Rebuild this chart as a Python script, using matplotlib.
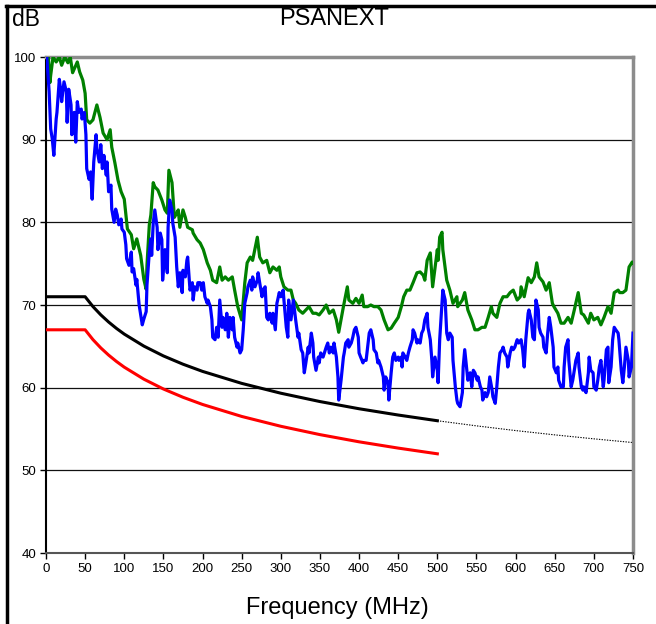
import matplotlib
matplotlib.use("Agg")
import matplotlib.pyplot as plt
from matplotlib.lines import Line2D

plt.rcParams['font.family'] = ['Liberation Sans', 'DejaVu Sans']

# ---- data ----
green_f = [1, 3, 5, 6, 9, 13, 17, 20, 24, 28, 31, 34, 40, 43, 47, 50, 52, 56, 60, 65, 69, 73, 78, 82, 84, 88, 92, 96, 100,
           104, 109, 112, 116, 121, 125, 128, 129, 132, 134, 137, 139, 143, 148, 152, 155, 157, 161, 164, 167, 169, 171,
           175, 178, 181, 187, 188, 193, 197, 201, 206, 210, 213, 218, 222, 225, 229, 233, 238, 241, 245, 250, 254, 257,
           261, 264, 270, 273, 277, 282, 286, 290, 295, 298, 300, 304, 309, 313, 316, 319, 323, 328, 332, 336, 341, 345,
           349, 354, 358, 362, 367, 371, 374, 380, 385, 387, 392, 396, 400, 404, 406, 411, 415, 419, 424, 428, 432, 437,
           441, 445, 450, 454, 457, 461, 465, 469, 474, 478, 482, 484, 487, 491, 494, 500, 501, 503, 506, 507, 512, 516,
           520, 525, 526, 532, 535, 539, 544, 548, 552, 557, 561, 565, 569, 571, 576, 580, 584, 589, 593, 597, 602, 606,
           607, 611, 616, 620, 624, 627, 630, 635, 639, 643, 647, 649, 654, 658, 662, 667, 671, 675, 680, 684, 687, 693,
           696, 700, 705, 709, 713, 718, 722, 726, 731, 733, 737, 741, 745, 749, 750]
green_db = [99.6, 100.0, 96.9, 97.8, 100.0, 99.4, 100.0, 99.0, 100.0, 99.3, 100.0, 98.1, 99.4, 98.2, 97.2, 95.6, 92.4,
            92.0, 92.4, 94.2, 92.7, 90.8, 90.0, 91.2, 89.1, 87.2, 85.1, 83.7, 82.8,
            79.2, 78.5, 76.8, 78.0, 76.0, 73.1, 71.9, 74.8, 79.7, 80.9, 84.8, 84.3, 83.9, 82.7, 81.5, 81.1, 86.3, 84.8,
            80.6, 81.1, 81.5, 79.4, 81.5, 80.6, 79.4, 79.1, 78.7, 77.9, 77.5, 76.7, 75.1, 74.2, 73.0, 72.7, 74.6, 73.0,
            73.4, 73.0, 73.4, 71.8, 69.8, 68.2, 72.7, 75.1, 75.8, 75.4, 78.2, 75.8, 75.1, 75.4, 73.9, 74.6, 74.2, 74.6,
            73.4, 72.2, 71.8, 71.8, 70.6, 70.2, 69.4, 69.0, 69.4, 69.8, 69.0, 69.0, 68.8, 69.4, 70.0, 69.0, 69.4, 68.2,
            66.7, 69.8, 72.2, 70.6, 70.2, 70.8, 70.2, 71.2, 69.8, 69.8, 70.0, 69.8, 69.8, 69.4, 68.2, 67.0, 67.2, 67.8,
            68.5, 69.8, 71.0, 71.8, 71.8, 72.7, 73.9, 74.0, 73.6, 73.0, 75.4, 76.3, 72.2, 76.7, 75.4, 78.2, 78.8, 76.7,
            73.0, 71.8, 70.2, 71.0, 69.8, 70.6, 71.5, 69.4, 68.2, 67.0, 67.0, 67.3, 67.3, 68.5, 69.8, 69.0, 68.5, 70.2,
            71.0, 71.0, 71.5, 71.8, 70.6, 71.0, 72.2, 71.0, 73.3, 72.7, 73.4, 75.1, 73.4, 72.8, 71.8, 72.7, 70.2, 69.8,
            69.0, 67.8, 67.8, 68.5, 67.8, 69.4, 71.5, 69.0, 68.8, 67.8, 69.0, 68.2, 68.5, 67.6, 68.5, 69.8, 69.0, 71.5,
            71.8, 71.5, 71.5, 71.8, 74.6, 75.2, 75.1]

blue_f = [1, 4, 6, 8, 10, 13, 14, 17, 19, 20, 23, 26, 27, 29, 32, 33, 36, 38, 40, 42, 45, 46, 49, 51, 52, 55, 57, 59, 61,
          64, 65, 68, 70, 72, 74, 77, 78, 80, 83, 84, 87, 89, 91, 93, 96, 97, 100, 102, 103, 106, 109, 110, 112, 115,
          116, 119, 121, 123, 125, 128, 129, 132, 134, 135, 137, 139, 142, 143, 146, 148, 149, 152, 155, 156, 158, 161,
          162, 165, 167, 169, 171, 174, 175, 178, 180, 181, 184, 187, 188, 190, 193, 194, 197, 199, 201, 203, 206, 207,
          210, 212, 213, 216, 218, 220, 222, 225, 226, 229, 231, 233, 235, 238, 239, 241, 244, 245, 248, 250, 252, 254,
          257, 258, 261, 263, 264, 267, 270, 271, 273, 276, 277, 280, 282, 284, 286, 289, 290, 293, 295, 296, 298, 300,
          303, 304, 307, 309, 310, 313, 316, 317, 319, 322, 323, 326, 328, 330, 332, 335, 336, 339, 341, 342, 345, 348,
          349, 351, 354, 358, 360, 362, 364, 367, 368, 371, 373, 374, 377, 380, 381, 383, 386, 387, 390, 392, 394, 396,
          399, 400, 402, 405, 406, 409, 411, 413, 415, 418, 419, 422, 424, 425, 428, 431, 432, 434, 437, 438, 441, 443,
          445, 447, 450, 451, 454, 455, 456, 459, 461, 463, 465, 468, 469, 471, 474, 475, 478, 480, 482, 484, 487, 488,
          491, 493, 494, 497, 500, 501, 503, 506, 507, 510, 512, 514, 516, 519, 520, 523, 525, 526, 529, 532, 533, 535,
          538, 539, 542, 544, 546, 548, 551, 552, 555, 557, 558, 561, 563, 565, 567, 570, 571, 574, 576, 578, 580, 583,
          584, 586, 589, 590, 593, 595, 597, 599, 602, 604, 607, 609, 611, 613, 616, 617, 620, 622, 624, 626, 629, 630,
          632, 635, 636, 639, 641, 643, 645, 648, 649, 652, 654, 655, 658, 661, 662, 664, 667, 668, 671, 673, 675, 677,
          680, 681, 684, 686, 687, 690, 693, 694, 696, 699, 700, 703, 705, 707, 709, 712, 713, 716, 718, 719, 722, 724,
          726, 728, 731, 732, 735, 737, 739, 741, 744, 745, 748, 750]
blue_db = [100.0, 95.8, 91.3, 90.1, 88.1, 92.5, 93.3, 97.3, 95.8, 94.6, 97.0, 95.8, 92.1, 96.1, 94.2, 90.6, 93.3, 89.7,
           94.6, 93.3, 93.7, 92.5, 93.3, 90.6, 86.5, 85.2, 86.1, 82.8, 87.3,
           90.6, 88.9, 87.3, 89.4, 86.5, 88.1, 85.7, 87.3, 83.7, 84.5, 81.6, 80.0, 81.6, 80.9, 79.7, 80.4, 79.2, 78.8,
           77.3, 75.6, 74.8, 76.4, 74.0, 74.4, 72.4, 73.1, 70.0, 68.8, 67.6, 68.3, 69.2, 72.4, 76.4, 78.0, 76.0, 79.9,
           81.5, 79.4, 76.7, 78.7, 77.9, 73.0, 76.7, 73.9, 79.4, 82.7, 81.5, 79.9, 78.2, 74.6, 72.2, 73.9, 71.5, 74.2,
           73.4, 75.4, 75.8, 71.8, 72.7, 70.6, 72.2, 71.8, 72.7, 72.7, 71.8, 72.7, 71.0, 70.2, 70.6, 69.8, 68.2, 66.1,
           65.8, 67.3, 66.1, 70.6, 67.3, 68.5, 67.0, 69.0, 66.1, 68.5, 67.0, 68.5, 66.1, 64.9, 65.4, 64.2, 64.6, 67.0,
           70.2, 71.5, 72.2, 73.0, 71.8, 73.4, 72.2, 73.0, 73.9, 72.7, 71.0, 71.8, 72.2, 68.5, 68.2, 69.0, 67.8, 69.0,
           67.0, 70.2, 70.6, 71.5, 71.0, 71.8, 70.6, 67.3, 66.1, 70.6, 68.2, 70.6, 69.8, 68.2, 66.1, 66.6, 64.6, 64.2,
           61.8, 63.0, 64.9, 64.2, 66.6, 65.4, 63.7, 62.1, 63.7, 63.0, 64.2, 63.7, 64.9, 65.4, 64.2, 64.9, 64.2, 65.4,
           63.7, 61.3, 58.5, 60.9, 63.7, 64.2, 65.4, 65.8, 64.9, 65.4, 66.1, 67.0, 67.3, 66.1, 64.2, 63.7, 63.0, 63.3,
           63.3, 64.9, 66.6, 67.0, 65.8, 64.6, 64.2, 63.0, 63.3, 62.5, 61.3, 59.7, 61.3, 60.6, 58.5, 61.8, 63.7, 64.2,
           63.3, 63.7, 63.3, 63.7, 62.5, 64.2, 63.7, 63.3, 64.2, 64.9, 65.8, 67.0, 66.6, 65.4, 65.8, 65.4, 66.6, 67.0,
           68.2, 69.0, 67.3, 65.8, 63.3, 61.3, 63.7, 62.1, 60.6, 65.8, 70.2, 71.8, 70.6, 66.6, 65.8, 66.6, 66.1, 63.3,
           60.1, 58.5, 58.1, 57.7, 59.4, 62.5, 64.6, 61.8, 60.9, 61.8, 60.1, 62.1, 61.8, 60.9, 61.3, 60.1, 59.7, 58.5,
           59.4, 58.9, 59.4, 61.3, 59.7, 58.9, 58.1, 60.1, 62.5, 64.2, 64.6, 64.9, 64.2, 63.7, 62.5, 64.2, 64.9, 64.6,
           64.9, 65.8, 65.4, 65.8, 64.6, 62.5, 65.8, 69.0, 69.4, 68.2, 66.1, 65.8, 70.6, 69.4, 67.3, 66.6, 66.1, 64.9,
           64.2, 66.6, 68.5, 67.3, 64.9, 62.5, 61.8, 62.5, 60.9, 60.1, 60.1, 62.5, 64.9, 65.8, 63.3, 60.1, 60.9, 62.1,
           63.3, 64.2, 62.5, 60.1, 59.7, 60.1, 59.4, 61.8, 63.7, 62.1, 61.8, 60.1, 59.7, 60.9, 62.5, 63.3, 60.1, 60.9,
           64.6, 64.9, 60.6, 62.5, 65.8, 67.3, 67.0, 66.6, 65.8, 62.1, 60.6, 62.5, 64.9, 63.3, 61.3, 62.5, 66.6]

limit_f = [0, 50, 60, 70, 80, 90, 100, 125, 150, 175, 200, 250, 300, 350, 400, 450, 500]
limit_black = [71.0, 71.0, 69.81, 68.81, 67.94, 67.17, 66.48, 65.03, 63.84, 62.84, 61.97, 60.52, 59.33, 58.32, 57.45,
               56.69, 56.0]
limit_red = [67.0, 67.0, 65.81, 64.81, 63.94, 63.17, 62.48, 61.03, 59.84, 58.84, 57.97, 56.52, 55.33, 54.32, 53.45,
             52.69, 52.0]
ext_f = [500, 550, 600, 650, 700, 750]
ext_black = [56.0, 55.38, 54.81, 54.29, 53.81, 53.36]

x_ticks = list(range(0, 751, 50))
y_ticks = list(range(40, 101, 10))

# ---- figure ----
W, H = 656, 624
fig = plt.figure(figsize=(W / 100, H / 100), dpi=100)
ax = fig.add_axes([46 / W, 1 - 553 / H, (633 - 46) / W, (553 - 57) / H])

for y in [50, 60, 70, 80, 90]:
    ax.axhline(y, color='#111111', lw=0.9, zorder=1)

ax.plot(ext_f, ext_black, color='black', lw=0.8, ls=(0, (1.2, 1.2)), zorder=2)
ax.plot(limit_f, limit_red, color='#FF0000', lw=2.2, zorder=3)
ax.plot(limit_f, limit_black, color='black', lw=2.2, zorder=3)
ax.plot(green_f, green_db, color='#008000', lw=2.3, zorder=4, solid_joinstyle='round')
ax.plot(blue_f, blue_db, color='#0000FF', lw=2.3, zorder=5, solid_joinstyle='round')

ax.set_xlim(0, 750)
ax.set_ylim(40, 100)
ax.set_xticks(x_ticks)
ax.set_yticks(y_ticks)
ax.tick_params(axis='both', direction='out', length=4, width=1, labelsize=9.5, colors='black', pad=3)

ax.spines['left'].set_color('black')
ax.spines['left'].set_linewidth(1.5)
ax.spines['bottom'].set_color('#555555')
ax.spines['bottom'].set_linewidth(1.5)
ax.spines['top'].set_color('#8c8c8c')
ax.spines['top'].set_linewidth(2.5)
ax.spines['right'].set_color('#8c8c8c')
ax.spines['right'].set_linewidth(2.5)

fig.text(334 / W, 1 - 19 / H, 'PSANEXT', ha='center', va='center', fontsize=17)
fig.text(12 / W, 1 - 19 / H, 'dB', ha='left', va='center', fontsize=16.5)
fig.text(337 / W, 1 - 608 / H, 'Frequency (MHz)', ha='center', va='center', fontsize=17)

# figure frame (left and top edges)
fig.add_artist(Line2D([7 / W, 7 / W], [0, 1 - 5.5 / H], transform=fig.transFigure, color='black', lw=2.5))
fig.add_artist(Line2D([5.8 / W, 1], [1 - 5.5 / H, 1 - 5.5 / H], transform=fig.transFigure, color='black', lw=2.5))

fig.savefig('out.png', dpi=100)
